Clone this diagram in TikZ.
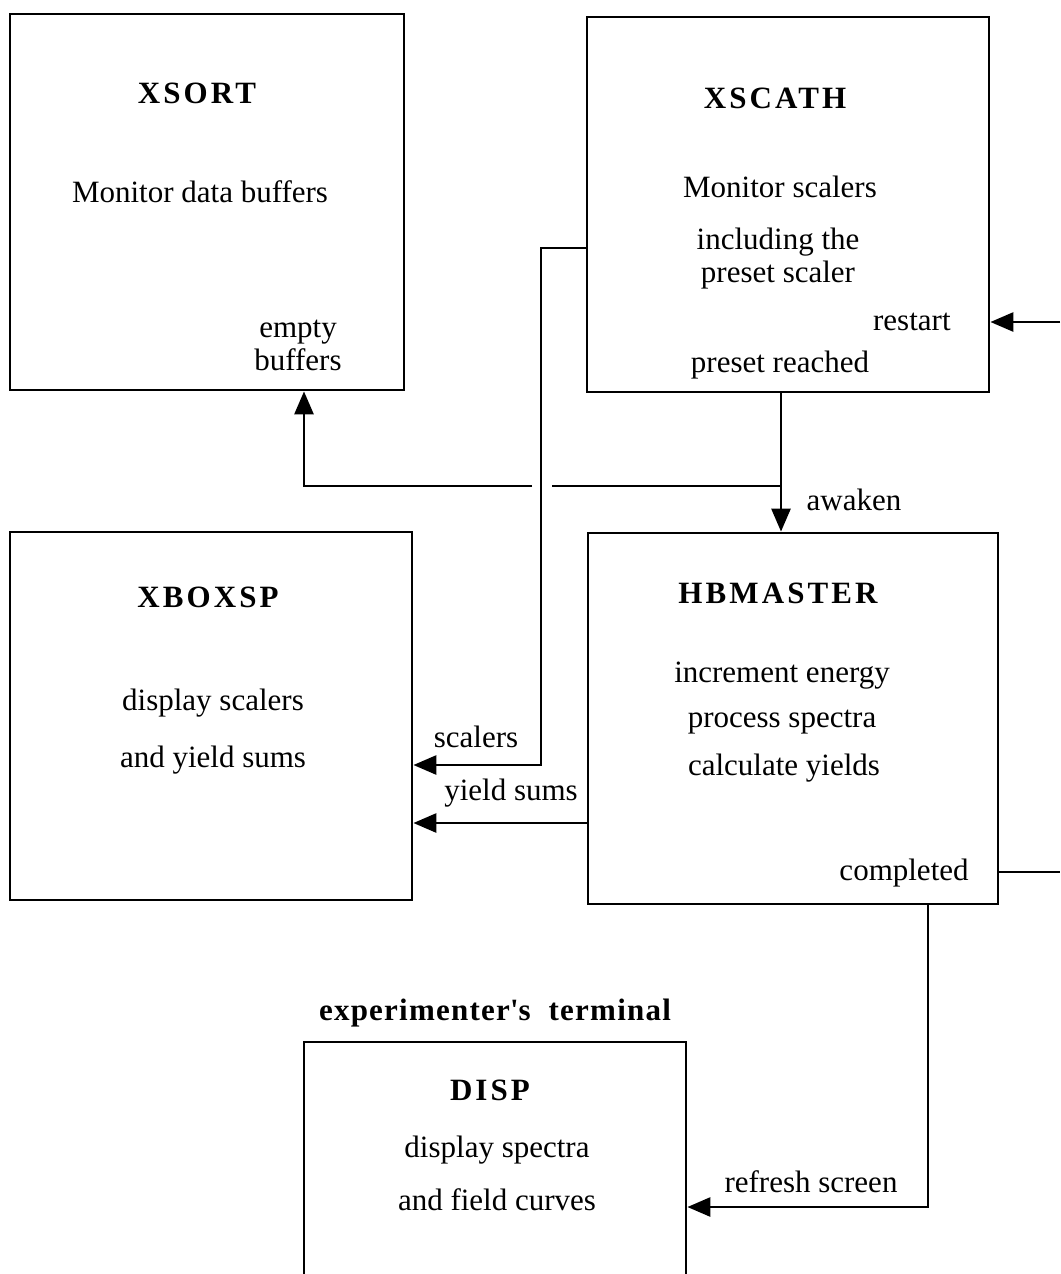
\documentclass[tikz,border=0pt]{standalone}
\usepackage{fontspec}
\setmainfont{Liberation Serif}
\newfontfamily\headfont[LetterSpace=10]{Liberation Serif}
\newfontfamily\tagfont[LetterSpace=4]{Liberation Serif}
\usetikzlibrary{arrows.meta,positioning}

\begin{document}
\begin{tikzpicture}[x=0.5pt,y=-0.5pt,>={Triangle[length=11.5pt,width=9.5pt]},line width=1.4pt, every node/.style={font=\fontsize{15.5}{16.5}\selectfont}]
    \tikzset{box/.style={draw,inner sep=0pt}}
    \tikzset{head/.style={font=\fontsize{15.5}{16.5}\selectfont\headfont\bfseries,inner sep=0pt}}
    \tikzset{txt/.style={align=center,inner sep=0pt}}
    \clip (0,0) rectangle (1060,1274);

    % Boxes
    \node[box,minimum width=197pt,minimum height=188pt] (xsort) at (207,202) {};
    \node[box,minimum width=201pt,minimum height=187.5pt] (xscath) at (788,204.5) {};
    \node[box,minimum width=201pt,minimum height=184pt] (xboxsp) at (211,716) {};
    \node[box,minimum width=205pt,minimum height=185.5pt] (hbmaster) at (793,718.5) {};
    \node[box,minimum width=191pt,minimum height=140pt] (disp) at (495,1182) {};

    % XSORT
    \node[head] (xsortT) at (197,93) {XSORT};
    \node[txt] (xsortD) at (200,192) {Monitor data buffers};
    \node[txt] (emptyL) at (298,345) {empty\\buffers};

    % XSCATH
    \node[head] (xscathT) at (775,98) {XSCATH};
    \node[txt] (xscathD) at (780,187) {Monitor scalers};
    \node[txt] (xscathP) at (778,259) {including the\\preset scaler};
    \node[txt,anchor=east] (restartL) at (952,322) {restart};
    \node[txt] (presetL) at (780,365) {preset reached};
    \node[txt] (awakenL) at (854,500) {awaken};

    % XBOXSP
    \node[head] (xboxspT) at (208,597) {XBOXSP};
    \node[txt] (xboxspD) at (213,703) {display scalers};
    \node[txt] (xboxspE) at (213,760) {and yield sums};
    \node[txt] (scalersL) at (476,737) {scalers};
    \node[txt] (sumsL) at (511,793) {yield sums};

    % HBMASTER
    \node[head] (hbmasterT) at (778,593) {HBMASTER};
    \node[txt] (incL) at (782,676) {increment energy};
    \node[txt] (procL) at (782,722) {process spectra};
    \node[txt] (calcL) at (784,768) {calculate yields};
    \node[txt,anchor=east] (doneL) at (970,873) {completed};

    % DISP
    \node[txt,font=\fontsize{15.5}{16.5}\selectfont\tagfont\bfseries] (termL) at (495,1013) {experimenter\textquotesingle s~ terminal};
    \node[head] (dispT) at (490,1090) {DISP};
    \node[txt] (dispD) at (497,1150) {display spectra};
    \node[txt] (dispE) at (497,1200) {and field curves};
    \node[txt] (refreshL) at (811,1182) {refresh screen};

    % Connectors
    \coordinate (restartIn) at (1060,322);
    \draw[->] (restartIn) -- (xscath.east |- restartIn);
    \coordinate (doneOut) at (1060,872);
    \draw (hbmaster.east |- doneOut) -- (doneOut);

    \coordinate (wake) at (781,486);
    \draw[->] (xscath.south -| wake) -- (hbmaster.north -| wake);
    \coordinate (gapR) at (552,486);
    \coordinate (gapL) at (532,486);
    \coordinate (bend) at (304,486);
    \draw (wake) -- (gapR);
    \draw[->] (gapL) -- (bend) -- (xsort.south -| bend);

    \coordinate (scTop) at (541,248);
    \coordinate (scBot) at (541,765);
    \draw[->] (xscath.west |- scTop) -- (scTop) -- (scBot) -- (xboxsp.east |- scBot);
    \coordinate (sums) at (500,823);
    \draw[->] (hbmaster.west |- sums) -- (xboxsp.east |- sums);

    \coordinate (refresh) at (928,1207);
    \draw[->] (hbmaster.south -| refresh) -- (refresh) -- (disp.east |- refresh);
\end{tikzpicture}
\end{document}
